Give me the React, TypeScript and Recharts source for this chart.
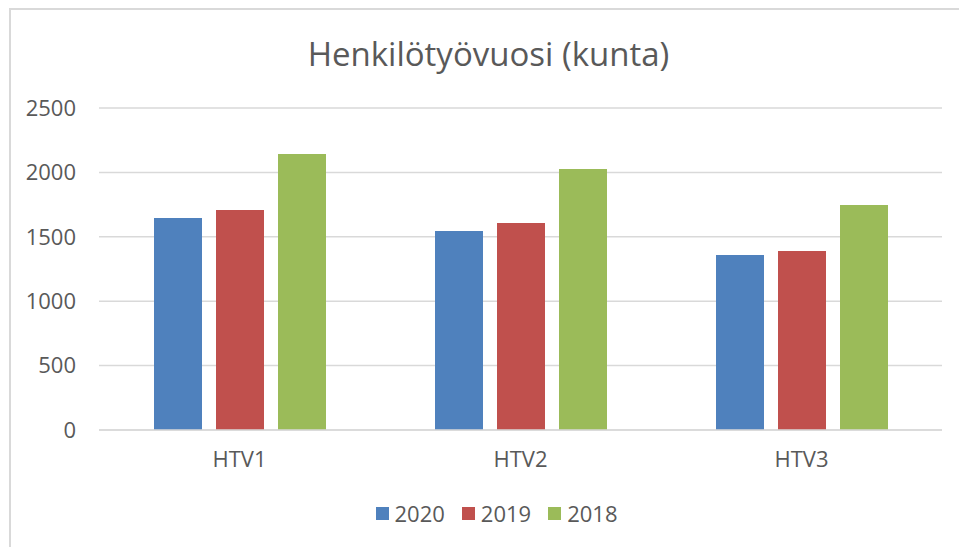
import { BarChart, Bar, XAxis, YAxis, CartesianGrid } from "recharts"

const categories = ["HTV1", "HTV2", "HTV3"]
const values2020 = [1646, 1545, 1359]
const values2019 = [1708, 1607, 1390]
const values2018 = [2143, 2026, 1747]
const yTicks = [0, 500, 1000, 1500, 2000, 2500]

const series = [
  { key: "y2020", name: "2020", color: "#4f81bd", values: values2020 },
  { key: "y2019", name: "2019", color: "#c0504d", values: values2019 },
  { key: "y2018", name: "2018", color: "#9bbb59", values: values2018 },
]

const data = categories.map((c, i) => {
  const row: Record<string, string | number> = { name: c }
  series.forEach((s) => (row[s.key] = s.values[i]))
  return row
})

const font = '"Open Sans", sans-serif'
const textColor = "#595959"
const gridColor = "#d9d9d9"

export default function App() {
  return (
    <div
      style={{
        position: "absolute",
        left: 0,
        top: 0,
        width: 959,
        height: 547,
        background: "#fff",
        overflow: "hidden",
        fontFamily: font,
      }}
    >
      {/* chart frame, only top and left edges are visible */}
      <div
        style={{
          position: "absolute",
          left: 9,
          top: 8,
          width: 1000,
          height: 600,
          borderTop: `2px solid ${gridColor}`,
          borderLeft: `2px solid ${gridColor}`,
        }}
      />
      <div
        style={{
          position: "absolute",
          left: 0,
          width: 977,
          top: 35,
          textAlign: "center",
          fontSize: 33,
          color: textColor,
          lineHeight: "38px",
        }}
      >
        Henkilötyövuosi (kunta)
      </div>
      <div style={{ position: "absolute", left: 0, top: 0 }}>
        <BarChart
          width={959}
          height={547}
          data={data}
          margin={{ top: 108, right: 17, left: 0, bottom: 0 }}
          barSize={48}
          barGap={14}
        >
          <CartesianGrid vertical={false} stroke={gridColor} strokeWidth={1.5} />
          <XAxis
            dataKey="name"
            height={117}
            tickLine={false}
            tickSize={0}
            tickMargin={21}
            axisLine={{ stroke: gridColor, strokeWidth: 1.5 }}
            tick={{ fill: textColor, fontSize: 22, fontFamily: font }}
          />
          <YAxis
            width={99}
            domain={[0, 2500]}
            ticks={yTicks}
            axisLine={false}
            tickLine={false}
            tickSize={0}
            tickMargin={23}
            tick={{ fill: textColor, fontSize: 22, fontFamily: font }}
          />
          {series.map((s) => (
            <Bar key={s.key} dataKey={s.key} name={s.name} fill={s.color} isAnimationActive={false} />
          ))}
        </BarChart>
      </div>
      <div
        style={{
          position: "absolute",
          left: 0,
          width: 993,
          top: 499,
          display: "flex",
          justifyContent: "center",
          gap: 17,
          fontSize: 22,
          color: textColor,
          lineHeight: "28px",
        }}
      >
        {series.map((s) => (
          <div key={s.key} style={{ display: "flex", alignItems: "center", gap: 6 }}>
            <span style={{ width: 13, height: 13, background: s.color, display: "inline-block" }} />
            <span>{s.name}</span>
          </div>
        ))}
      </div>
    </div>
  )
}
